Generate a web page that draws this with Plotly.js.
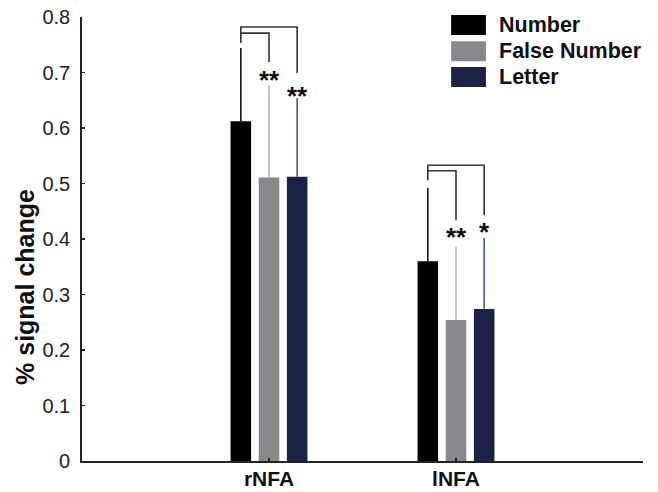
<!DOCTYPE html>
<html>
<head>
<meta charset="utf-8">
<script src="https://cdn.plot.ly/plotly-3.0.1.min.js"></script>
<style>html,body{margin:0;padding:0;background:#fff;}#chart{width:658px;height:492px;}</style>
</head>
<body>
<div id="chart"></div>
<script>
// ---- data ----
const regions = ['rNFA', 'lNFA'];
const regionPos = [1, 2];
const seriesNames = ['Number', 'False Number', 'Letter'];
const numberVals = [0.612, 0.360];
const falseNumberVals = [0.511, 0.254];
const letterVals = [0.512, 0.274];
const numberErr = [0.132, 0.132];
const falseNumberErr = [0.166, 0.132];
const letterErr = [0.142, 0.128];
const yTicks = [0, 0.1, 0.2, 0.3, 0.4, 0.5, 0.6, 0.7, 0.8];
const yTickText = ['0', '0.1', '0.2', '0.3', '0.4', '0.5', '0.6', '0.7', '0.8'];
// significance: [regionIndex, seriesIndex, label]
const sigMarks = [[0, 1, '**'], [0, 2, '**'], [1, 1, '**'], [1, 2, '*']];

// ---- styles / layout positions ----
const FONT = 'Liberation Sans, Arial, Helvetica, sans-serif';
const barColors = ['#000000', '#87888c', '#1b2245'];
const errColors = ['#111111', '#b4b5b8', '#4d5a86'];
const BARGAP = 0.548;
const BARGROUPGAP = 0.27;
const pitch = (1 - BARGAP) / 3;
const starY = [0.695, 0.666, 0.413, 0.422];   // star glyph centres (y units)

const vals = [numberVals, falseNumberVals, letterVals];
const errs = [numberErr, falseNumberErr, letterErr];

const traces = seriesNames.map((name, i) => ({
  type: 'bar',
  name: name,
  x: regionPos,
  y: vals[i],
  marker: {color: barColors[i], line: {width: 0}},
  error_y: {
    type: 'data', symmetric: false, array: errs[i], arrayminus: regionPos.map(() => 0),
    color: errColors[i], thickness: 1.6, width: 0
  },
  showlegend: false,
  hoverinfo: 'skip'
}));

const barX = (r, s) => regionPos[r] + (s - 1) * pitch;

// bracket levels (layout positions, in y data units) per region
const bracketLevels = [
  {outer: 0.782, inner: 0.771, leftEnd: 0.753, innerEnd: 0.719, outerEnd: 0.699},
  {outer: 0.533, inner: 0.523, leftEnd: 0.506, innerEnd: 0.434, outerEnd: 0.443}
];
const lineStyle = {color: '#333333', width: 1.6};
const shapes = [];
bracketLevels.forEach((b, r) => {
  const x0 = barX(r, 0), x1 = barX(r, 1), x2 = barX(r, 2);
  shapes.push({type: 'path', xref: 'x', yref: 'y',
    path: `M${x0},${b.leftEnd} L${x0},${b.outer} L${x2},${b.outer} L${x2},${b.outerEnd}`,
    line: lineStyle});
  shapes.push({type: 'path', xref: 'x', yref: 'y',
    path: `M${x0},${b.inner} L${x1},${b.inner} L${x1},${b.innerEnd}`,
    line: lineStyle});
});

// custom legend
const legendRows = [0.982, 0.923, 0.865];
seriesNames.forEach((n, i) => {
  shapes.push({type: 'rect', xref: 'paper', yref: 'paper',
    x0: 0.658, x1: 0.720, y0: legendRows[i] - 0.0225, y1: legendRows[i] + 0.0225,
    fillcolor: barColors[i], line: {width: 0}});
});

const annotations = [];
sigMarks.forEach(([r, s, lab], k) => {
  annotations.push({x: barX(r, s), y: starY[k], xref: 'x', yref: 'y',
    text: '<b>' + lab + '</b>', showarrow: false, yanchor: 'bottom', yshift: -22,
    font: {family: FONT, size: 26, color: '#111'}});
});
seriesNames.forEach((n, i) => {
  annotations.push({x: 0.740, y: legendRows[i], xref: 'paper', yref: 'paper',
    text: '<b>' + n + '</b>', showarrow: false, xanchor: 'left', yanchor: 'middle',
    font: {family: FONT, size: 21.5, color: '#111'}});
});
// y-axis title
annotations.push({x: 0, y: 0.392, xref: 'paper', yref: 'paper', xshift: -57,
  text: '<b>% signal change</b>', textangle: -90, showarrow: false,
  xanchor: 'center', yanchor: 'middle',
  font: {family: FONT, size: 25, color: '#111'}});

const layout = {
  width: 658, height: 492,
  margin: {l: 82, r: 15, t: 17, b: 31},
  paper_bgcolor: '#ffffff', plot_bgcolor: '#ffffff',
  barmode: 'group', bargap: BARGAP, bargroupgap: BARGROUPGAP,
  showlegend: false,
  font: {family: FONT, color: '#111'},
  xaxis: {
    range: [0, 3], tickvals: [0, 1, 2, 3], ticktext: ['', '<b>rNFA</b>', '<b>lNFA</b>', ''],
    ticks: 'inside', ticklen: 3, tickwidth: 1.5, tickcolor: '#222',
    showline: true, linecolor: '#222', linewidth: 1.8, showgrid: false, zeroline: false,
    tickfont: {family: FONT, size: 21, color: '#111'}, ticklabelstandoff: -2
  },
  yaxis: {
    range: [0, 0.8], tickvals: yTicks, ticktext: yTickText,
    ticks: 'inside', ticklen: 3, tickwidth: 1.5, tickcolor: '#222',
    showline: true, linecolor: '#222', linewidth: 1.8, showgrid: false, zeroline: false,
    tickfont: {family: FONT, size: 20, color: '#222'}, ticklabelstandoff: 6
  },
  shapes: shapes,
  annotations: annotations
};

Plotly.newPlot('chart', traces, layout, {displayModeBar: false, staticPlot: true});
</script>
</body>
</html>
